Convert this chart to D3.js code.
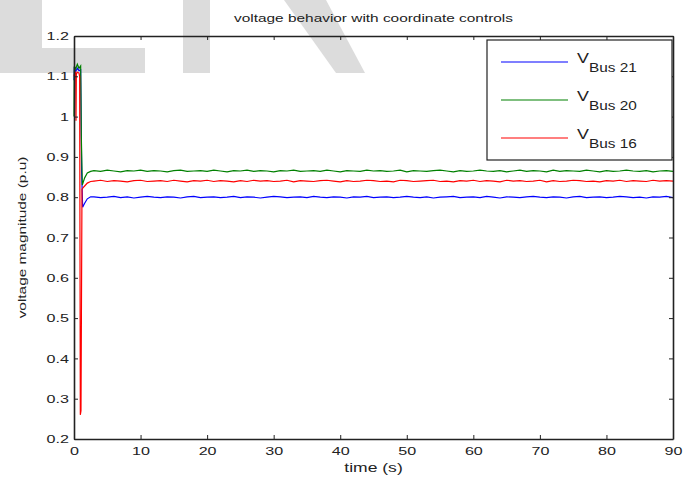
<!DOCTYPE html>
<html>
<head>
<meta charset="utf-8">
<script src="https://cdn.jsdelivr.net/npm/d3@7"></script>
<style>
  body { margin: 0; background: #fff; }
  text { font-family: "Liberation Sans", Arial, sans-serif; fill: #222; }
</style>
</head>
<body>
<div id="chart"></div>
<script>
'use strict';

// tick labels
const xTicks = [0, 10, 20, 30, 40, 50, 60, 70, 80, 90];
const yTicks = [0.2, 0.3, 0.4, 0.5, 0.6, 0.7, 0.8, 0.9, 1, 1.1, 1.2];

// legend names
const seriesNames = ['Bus 21', 'Bus 20', 'Bus 16'];
const seriesColors = ['#0000ff', '#008000', '#ff0000'];

// start-up transient (t in s)
const blueT  = [0, 0.05, 0.25, 0.5, 0.75, 1.0, 1.15, 1.3, 1.6, 2.0, 2.5];
const blueV  = [1.09, 1.118, 1.112, 1.12, 1.114, 1.116, 0.86, 0.775, 0.785, 0.796, 0.801];
const greenT = [0, 0.05, 0.25, 0.5, 0.75, 1.0, 1.1, 1.25, 1.6, 2.0, 2.5];
const greenV = [1.0, 1.125, 1.118, 1.13, 1.12, 1.126, 0.95, 0.83, 0.848, 0.86, 0.864];
const redT   = [0, 0.1, 0.25, 0.3, 0.35, 0.5, 0.75, 0.85, 0.95, 1.05, 1.2, 1.5, 2.0, 2.5];
const redV   = [1.10, 1.108, 1.11, 0.99, 1.105, 1.11, 1.108, 1.1, 0.26, 0.27, 0.82, 0.826, 0.835, 0.839];

// steady part, one sample per second from t = 3 to t = 90
const blueSteady = [
  0.801,0.799,0.800,0.802,0.799,0.801,0.798,0.800,0.802,0.800,0.799,
  0.801,0.800,0.798,0.801,0.802,0.799,0.800,0.801,0.799,0.800,0.802,
  0.799,0.801,0.800,0.798,0.800,0.802,0.801,0.799,0.800,0.801,0.799,
  0.802,0.800,0.799,0.801,0.800,0.798,0.801,0.800,0.802,0.799,0.800,
  0.801,0.799,0.800,0.802,0.800,0.799,0.801,0.798,0.800,0.801,0.802,
  0.799,0.800,0.801,0.799,0.802,0.800,0.798,0.801,0.800,0.799,0.801,
  0.802,0.800,0.799,0.801,0.800,0.798,0.801,0.802,0.799,0.800,0.801,
  0.799,0.800,0.802,0.801,0.799,0.800,0.798,0.801,0.800,0.802,0.799
];
const greenSteady = [
  0.866,0.864,0.867,0.865,0.863,0.866,0.865,0.867,0.864,0.866,0.865,
  0.863,0.866,0.867,0.864,0.865,0.866,0.864,0.867,0.865,0.863,0.866,
  0.865,0.867,0.864,0.866,0.865,0.863,0.866,0.865,0.867,0.864,0.865,
  0.866,0.864,0.867,0.865,0.863,0.866,0.865,0.864,0.867,0.865,0.866,
  0.864,0.865,0.867,0.863,0.866,0.865,0.864,0.866,0.867,0.865,0.863,
  0.866,0.864,0.865,0.867,0.865,0.864,0.866,0.863,0.865,0.867,0.864,
  0.866,0.865,0.863,0.867,0.864,0.866,0.865,0.864,0.867,0.865,0.863,
  0.866,0.864,0.865,0.867,0.865,0.864,0.866,0.863,0.865,0.866,0.864
];
const redSteady = [
  0.840,0.842,0.839,0.841,0.840,0.838,0.841,0.842,0.839,0.840,0.841,
  0.839,0.842,0.840,0.838,0.841,0.840,0.842,0.839,0.841,0.840,0.838,
  0.841,0.839,0.842,0.840,0.841,0.839,0.840,0.842,0.838,0.841,0.840,
  0.839,0.841,0.842,0.840,0.838,0.841,0.839,0.840,0.842,0.841,0.839,
  0.840,0.838,0.842,0.841,0.839,0.840,0.841,0.842,0.839,0.840,0.838,
  0.841,0.840,0.842,0.839,0.841,0.840,0.838,0.842,0.840,0.841,0.839,
  0.840,0.842,0.838,0.841,0.839,0.840,0.842,0.841,0.839,0.840,0.838,
  0.841,0.840,0.842,0.839,0.841,0.840,0.839,0.842,0.840,0.841,0.840
];

const steadyT = d3.range(3, 91);

const join = (t, v, s) => t.map((d, i) => ({ t: d, v: v[i] }))
  .concat(steadyT.map((d, i) => ({ t: d, v: s[i] })));

const series = [
  join(blueT, blueV, blueSteady),
  join(greenT, greenV, greenSteady),
  join(redT, redV, redSteady)
];

const width = 699, height = 477;
const margin = {top: 36, right: 20, bottom: 38, left: 74};
const stretch = 1.4; // the text in the picture is drawn wide

const svg = d3.select('#chart').append('svg')
  .attr('width', width)
  .attr('height', height);

// faint watermark behind the plot
const wm = svg.append('g').attr('fill', '#dcdcdc');
wm.append('rect').attr('x', 0).attr('y', 0).attr('width', 42).attr('height', 73);
wm.append('rect').attr('x', 0).attr('y', 48).attr('width', 145).attr('height', 25);
wm.append('rect').attr('x', 183).attr('y', 0).attr('width', 27).attr('height', 73);
wm.append('polygon').attr('points', '284,0 326,0 365,73 336,73');

const x = d3.scaleLinear().domain([0, 90]).range([margin.left, width - margin.right - 6]);
const y = d3.scaleLinear().domain([0.2, 1.2]).range([height - margin.bottom, margin.top]);

const line = d3.line()
  .x(d => x(d.t))
  .y(d => y(d.v));

series.forEach((s, i) => {
  svg.append('path')
    .datum(s)
    .attr('fill', 'none')
    .attr('stroke', seriesColors[i])
    .attr('stroke-width', 1.2)
    .attr('d', line);
});

// axes, ticks pointing inward on all four sides
svg.append('g')
  .attr('class', 'x axis')
  .attr('transform', 'translate(0,' + y(0.2) + ')')
  .call(d3.axisBottom(x).tickValues(xTicks).tickSizeInner(-4).tickSizeOuter(0).tickPadding(8));

svg.append('g')
  .attr('transform', 'translate(0,' + y(1.2) + ')')
  .call(d3.axisTop(x).tickValues(xTicks).tickSizeInner(-4).tickSizeOuter(0).tickFormat(''));

svg.append('g')
  .attr('class', 'y axis')
  .attr('transform', 'translate(' + x(0) + ',0)')
  .call(d3.axisLeft(y).tickValues(yTicks).tickSizeInner(-4).tickSizeOuter(0).tickPadding(3.6)
    .tickFormat(d3.format('~g')));

svg.append('g')
  .attr('transform', 'translate(' + x(90) + ',0)')
  .call(d3.axisRight(y).tickValues(yTicks).tickSizeInner(-4).tickSizeOuter(0).tickFormat(''));

svg.selectAll('.domain').attr('stroke', '#222').attr('stroke-width', 1.6);
svg.selectAll('.tick line').attr('stroke', '#222');
svg.selectAll('.axis text')
  .attr('font-size', 11.5)
  .attr('fill', '#222')
  .attr('transform', 'scale(' + stretch + ',1)')
  .style('font-family', '"Liberation Sans", Arial, sans-serif');

// title and axis labels
svg.append('text')
  .attr('transform', 'translate(' + (x(0) + x(90)) / 2 + ',22) scale(' + stretch + ',1)')
  .attr('text-anchor', 'middle')
  .attr('font-size', 11)
  .text('voltage behavior with coordinate controls');

svg.append('text')
  .attr('transform', 'translate(' + (x(0) + x(90)) / 2 + ',472) scale(1.35,1)')
  .attr('text-anchor', 'middle')
  .attr('font-size', 13)
  .text('time (s)');

svg.append('text')
  .attr('transform', 'translate(26,' + y(0.7) + ') rotate(-90) scale(' + stretch + ',1)')
  .attr('text-anchor', 'middle')
  .attr('font-size', 11)
  .text('voltage magnitude (p.u)');

// legend
const legend = svg.append('g');
legend.append('rect')
  .attr('x', 487).attr('y', 40)
  .attr('width', 185).attr('height', 120)
  .attr('fill', '#fff')
  .attr('stroke', '#222')
  .attr('stroke-width', 1.2);

seriesNames.forEach((name, i) => {
  const ly = 62 + i * 38;
  legend.append('line')
    .attr('x1', 501).attr('x2', 568)
    .attr('y1', ly).attr('y2', ly)
    .attr('stroke', seriesColors[i])
    .attr('stroke-width', 1.2);
  const t = legend.append('text')
    .attr('transform', 'translate(577,' + (ly + 1) + ') scale(1.28,1)')
    .attr('font-size', 14);
  t.append('tspan').text('V');
  t.append('tspan')
    .attr('dy', 9)
    .attr('font-size', 12)
    .text(name);
});
</script>
</body>
</html>
